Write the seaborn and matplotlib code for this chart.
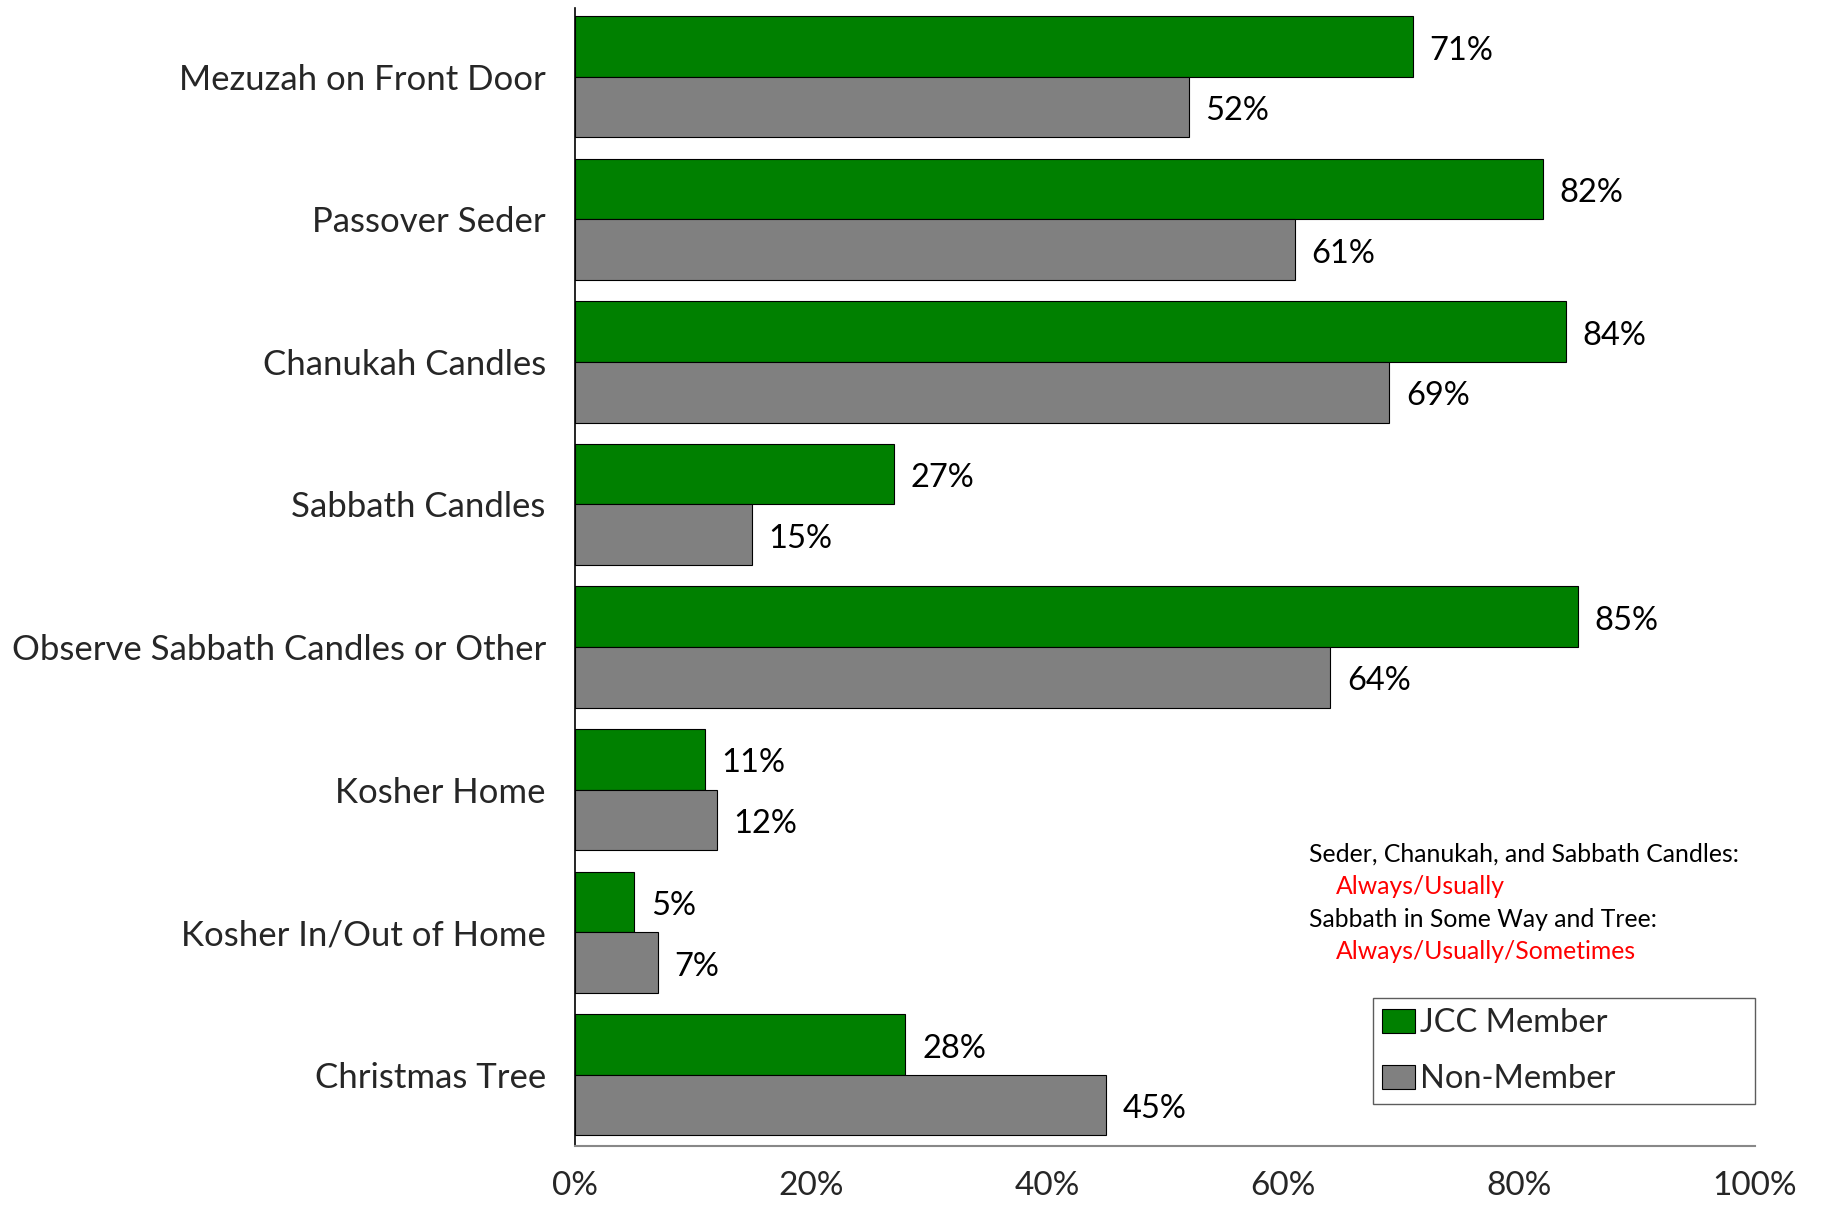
import pandas as pd
import numpy as np
import seaborn as sns
import matplotlib.pyplot as plt

categories = ['Mezuzah on Front Door', 'Passover Seder', 'Chanukah Candles',
              'Sabbath Candles', 'Observe Sabbath Candles or Other', 'Kosher Home',
              'Kosher In/Out of Home', 'Christmas Tree']
jcc_member = [71, 82, 84, 27, 85, 11, 5, 28]
non_member = [52, 61, 69, 15, 64, 12, 7, 45]
groups = ['JCC Member', 'Non-Member']
x_ticks = [0, 20, 40, 60, 80, 100]

df = pd.DataFrame({
    'category': categories * 2,
    'group': [groups[0]] * len(categories) + [groups[1]] * len(categories),
    'pct': jcc_member + non_member,
})

sns.set_style('white')
plt.rcParams['font.family'] = ['Lato', 'DejaVu Sans']

fig = plt.figure(figsize=(18.22, 12.06), dpi=100)
ax = fig.add_axes([0.3156, 0.0498, 0.6476, 0.9432])

sns.barplot(data=df, y='category', x='pct', hue='group', order=categories,
            hue_order=groups, palette=['#008000', '#808080'], width=0.85,
            edgecolor='black', linewidth=0.8, saturation=1, ax=ax, orient='h')

# value labels, nudged a touch below bar centre like the original
for cont in ax.containers:
    labels = ax.bar_label(cont, fmt='%d%%', padding=12, fontsize=23.5, color='black')
    for t in labels:
        t.set_y(-3)

ax.set_xlim(0, 100)
ax.set_ylim(7.5, -0.48)
ax.set_xticks(x_ticks)
ax.set_xticklabels([f'{t}%' for t in x_ticks], fontsize=24)
ax.tick_params(axis='x', length=0, pad=18)
ax.tick_params(axis='y', length=0, pad=21, labelsize=25)
ax.set_xlabel('')
ax.set_ylabel('')

sns.despine(ax=ax, top=True, right=True)
ax.spines['left'].set_color('black')
ax.spines['left'].set_linewidth(1.2)
ax.spines['bottom'].set_color('#888888')
ax.spines['bottom'].set_linewidth(1.5)

leg = ax.legend(loc='lower left', bbox_to_anchor=(0.676, 0.037, 0.324, 0.08),
                mode='expand', borderaxespad=0, fontsize=23.5, frameon=True,
                fancybox=False, handlelength=1.0, handleheight=0.75,
                handletextpad=0.15, labelspacing=0.8, borderpad=0.3)
leg.get_frame().set_edgecolor('#333333')
leg.get_frame().set_linewidth(1.0)
for h in leg.legend_handles:
    h.set_edgecolor('black')

notes = [('Seder, Chanukah, and Sabbath Candles:', 'black', 0.0),
         ('Always/Usually', 'red', 0.023),
         ('Sabbath in Some Way and Tree:', 'black', 0.0),
         ('Always/Usually/Sometimes', 'red', 0.023)]
for i, (txt, col, dx) in enumerate(notes):
    ax.text(0.622 + dx, 0.2566 - i * 0.0286, txt, transform=ax.transAxes,
            fontsize=17.8, color=col, va='center', ha='left')

fig.savefig('out.png', dpi=100)
